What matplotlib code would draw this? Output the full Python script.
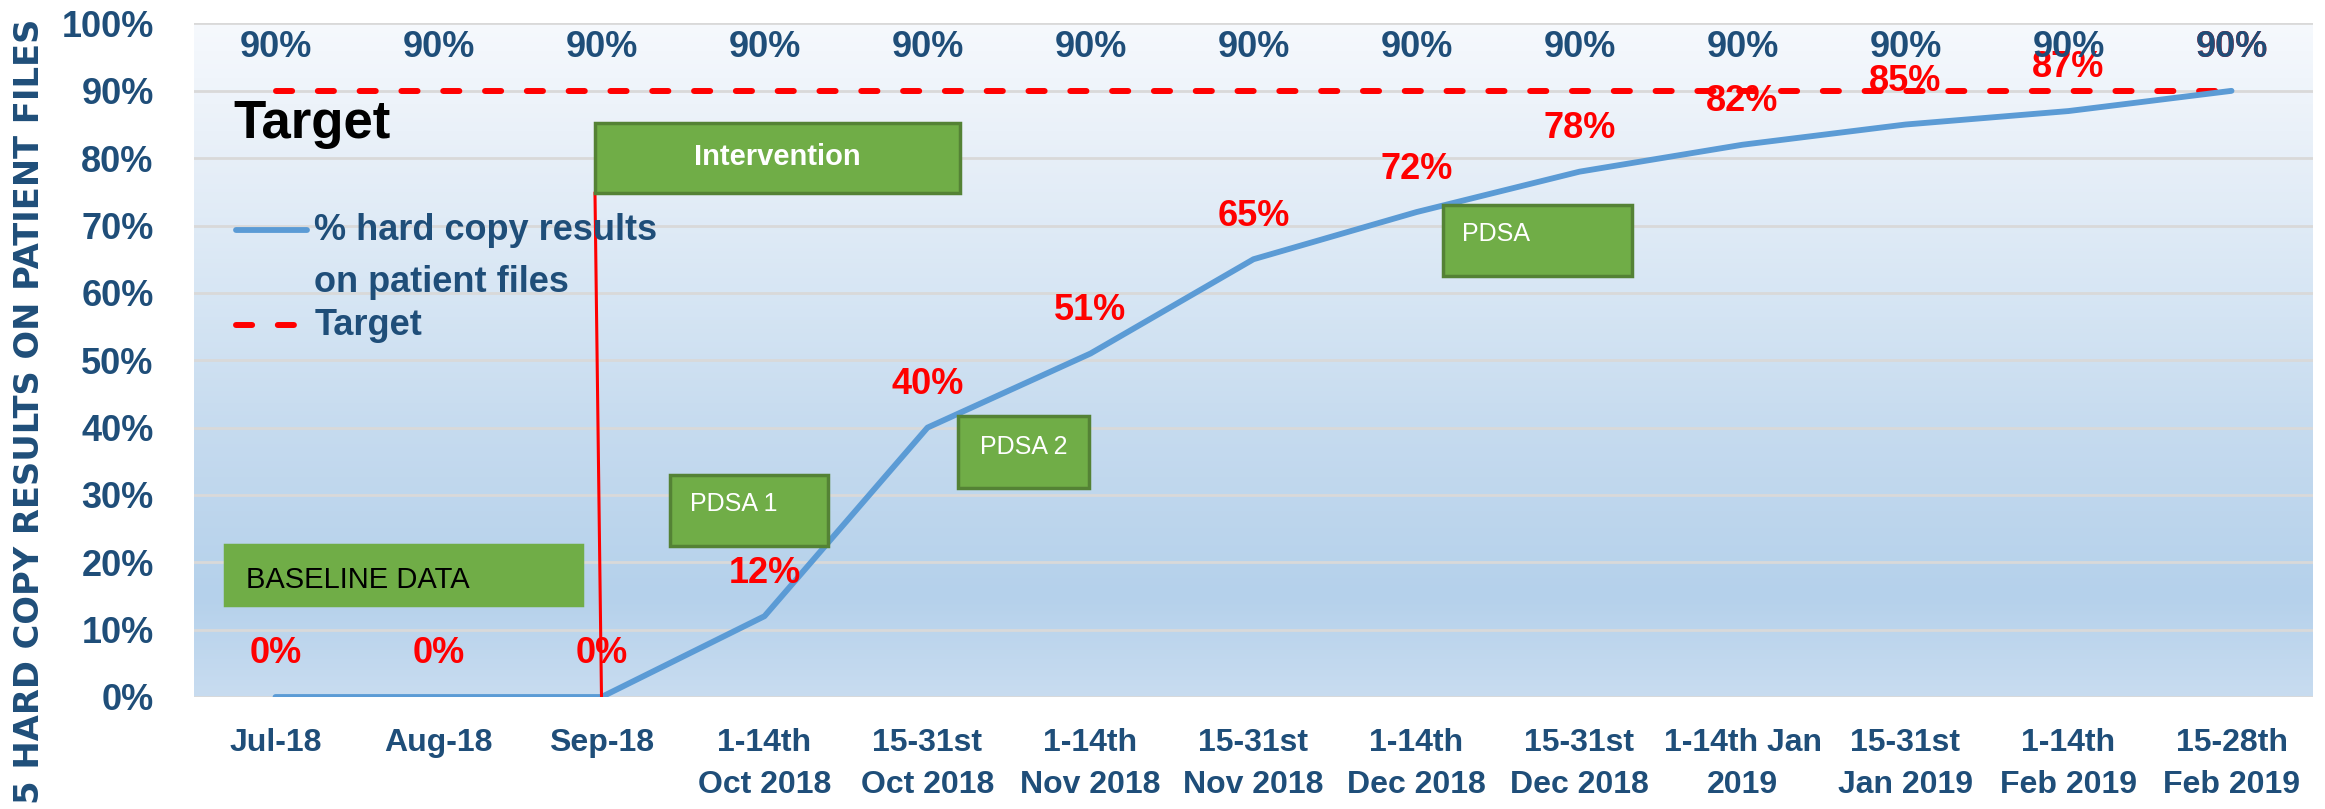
import numpy as np
import matplotlib
matplotlib.use('Agg')
import matplotlib.pyplot as plt
from matplotlib.patches import Rectangle

plt.rcParams['font.family'] = ['Liberation Sans', 'DejaVu Sans']

# Fortnightly audit results
periods = ['Jul-18', 'Aug-18', 'Sep-18', '1-14th\nOct 2018', '15-31st\nOct 2018',
           '1-14th\nNov 2018', '15-31st\nNov 2018', '1-14th\nDec 2018',
           '15-31st\nDec 2018', '1-14th Jan\n2019', '15-31st\nJan 2019',
           '1-14th\nFeb 2019', '15-28th\nFeb 2019']
results = [0, 0, 0, 12, 40, 51, 65, 72, 78, 82, 85, 87, 90]
target = [90] * len(periods)
yticks = list(range(0, 101, 10))

navy = '#1F4E79'
green = '#70AD47'
green_edge = '#548235'

fig = plt.figure(figsize=(23.25, 8.09), dpi=100)
ax = fig.add_axes([194 / 2325, 112 / 809, 2119 / 2325, 673.5 / 809])

# background gradient of the plot area
stops = [0.0, 0.15, 0.4, 0.6, 0.8, 1.0]
cols = np.array([[0xc8, 0xdc, 0xf0], [0xb5, 0xd1, 0xeb], [0xc6, 0xdb, 0xef],
                 [0xd7, 0xe6, 0xf4], [0xe7, 0xef, 0xf8], [0xf6, 0xf9, 0xfd]]) / 255
t = np.linspace(1, 0, 300)
grad = np.stack([np.interp(t, stops, cols[:, k]) for k in range(3)], axis=-1)[:, None, :]
ax.imshow(grad, extent=[0, 1, 0, 1], transform=ax.transAxes, aspect='auto', zorder=0)

x = np.arange(len(periods))
ax.set_xlim(-0.5, len(periods) - 0.5)
ax.set_ylim(0, 100)
ax.set_yticks(yticks)
ax.set_yticklabels([f'{v}%' for v in yticks])
ax.set_xticks(x)
ax.set_xticklabels(periods, linespacing=1.55)
ax.yaxis.grid(True, color='#d9d9d9', lw=2, zorder=1)
ax.set_axisbelow(True)
for s in ax.spines.values():
    s.set_visible(False)
ax.tick_params(axis='y', length=0, pad=29, labelsize=26, labelcolor=navy)
ax.tick_params(axis='x', length=0, pad=22, labelsize=23, labelcolor=navy)
for lab in ax.get_xticklabels() + ax.get_yticklabels():
    lab.set_fontweight('bold')

ax.plot(x, target, color='red', lw=4.3, zorder=3, dashes=(2.7, 4.3),
        dash_capstyle='round')
ax.plot(x, results, color='#5B9BD5', lw=4.2, zorder=4, solid_capstyle='round')

for i, v in enumerate(results):
    ax.annotate(f'{v}%', (i, v), xytext=(0, 31), textcoords='offset points',
                ha='center', va='center', color='red', fontsize=26,
                fontweight='bold', zorder=5)
for i, v in enumerate(target):
    ax.annotate(f'{v}%', (i, v), xytext=(0, 31), textcoords='offset points',
                ha='center', va='center', color=navy, fontsize=26,
                fontweight='bold', zorder=6)

# start of intervention
ax.plot([2.0, 1.96], [0, 74.8], color='red', lw=2.2, zorder=5)


def box(x0, x1, y0, y1, edge=True):
    ax.add_patch(Rectangle((x0, y0), x1 - x0, y1 - y0, facecolor=green,
                           edgecolor=green_edge if edge else green,
                           lw=2.5, zorder=7))


box(1.96, 4.20, 74.8, 85.2)
ax.text(3.08, 80.2, 'Intervention', color='white', fontsize=21, fontweight='bold',
        ha='center', va='center', zorder=8)
box(-0.31, 1.88, 13.6, 22.5, edge=False)
ax.text(-0.18, 17.3, 'BASELINE DATA', color='black', fontsize=21,
        ha='left', va='center', zorder=8)
box(2.42, 3.39, 22.4, 32.9)
ax.text(2.54, 28.6, 'PDSA 1', color='white', fontsize=18,
        ha='left', va='center', zorder=8)
box(4.19, 4.99, 31.0, 41.7)
ax.text(4.59, 37.1, 'PDSA 2', color='white', fontsize=18,
        ha='center', va='center', zorder=8)
box(7.16, 8.32, 62.5, 73.1)
ax.text(7.28, 68.7, 'PDSA', color='white', fontsize=18,
        ha='left', va='center', zorder=8)

ax.text(0.0185, 0.830, 'Target', transform=ax.transAxes, fontsize=38,
        fontweight='bold', color='black', va='baseline', zorder=8)

# legend
ax.plot([0.020, 0.0535], [0.693, 0.693], transform=ax.transAxes,
        color='#5B9BD5', lw=4.2, zorder=8, solid_capstyle='round')
ax.plot([0.020, 0.051], [0.552, 0.552], transform=ax.transAxes,
        color='red', lw=4.3, dashes=(2.7, 4.3), dash_capstyle='round', zorder=8)
ax.text(0.0568, 0.692, '% hard copy results', transform=ax.transAxes,
        fontsize=26, fontweight='bold', color=navy, va='center', zorder=8)
ax.text(0.0568, 0.615, 'on patient files', transform=ax.transAxes,
        fontsize=26, fontweight='bold', color=navy, va='center', zorder=8)
ax.text(0.0568, 0.552, 'Target', transform=ax.transAxes,
        fontsize=26, fontweight='bold', color=navy, va='center', zorder=8)

fig.text(30 / 2325, 1 - 411 / 809, '5 HARD COPY RESULTS ON PATIENT FILES',
         rotation=90, ha='center', va='center', fontsize=24.3,
         fontweight='bold', color=navy, family='DejaVu Sans')

fig.savefig('out.png', dpi=100, facecolor='white')
